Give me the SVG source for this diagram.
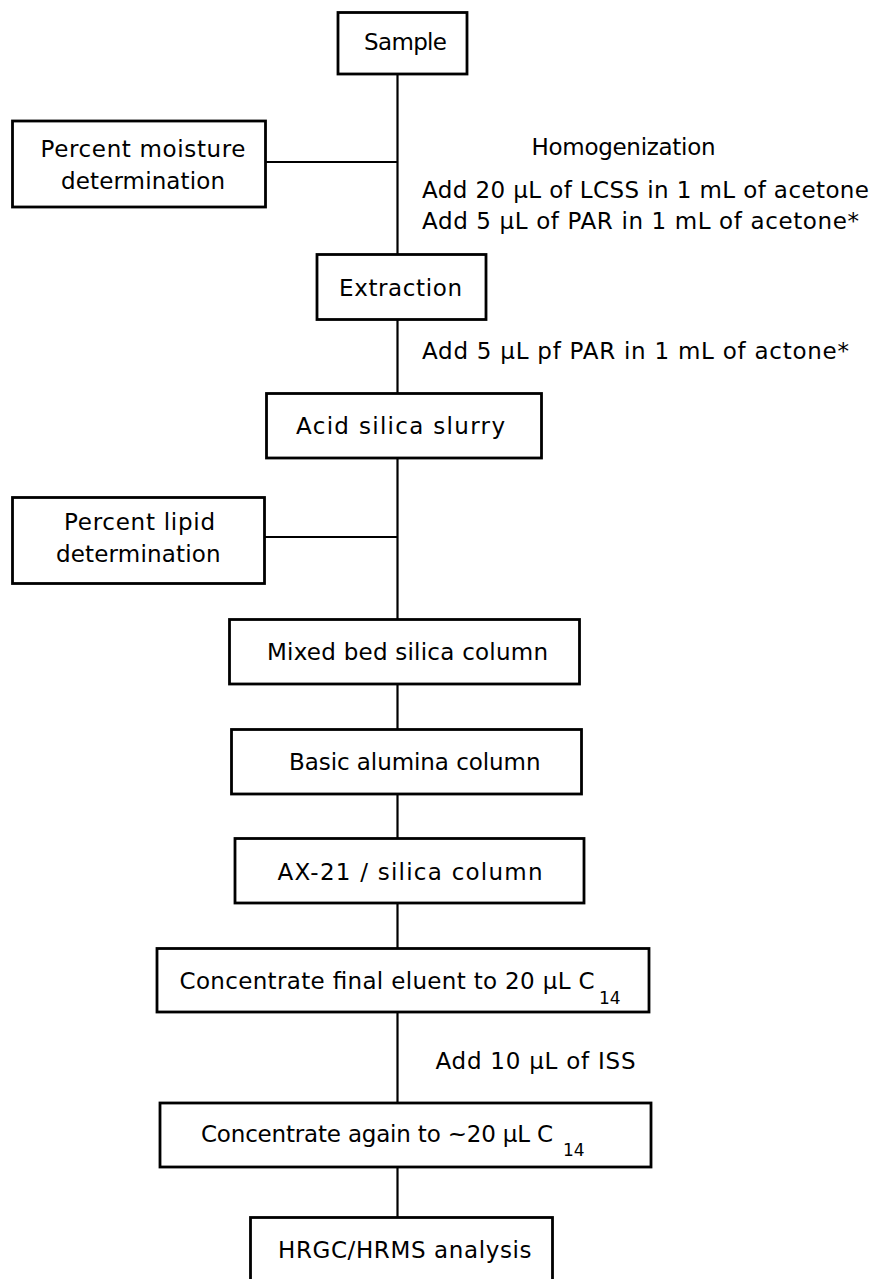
<svg xmlns="http://www.w3.org/2000/svg" width="875" height="1279" viewBox="0 0 875 1279">
<style>
.box{fill:#fff;stroke:#000;stroke-width:2.8}
.t{font-family:"DejaVu Sans","Verdana",sans-serif;font-size:23px;fill:#000}
.s{font-family:"DejaVu Sans","Verdana",sans-serif;font-size:17px;fill:#000}
.c{stroke:#000;stroke-width:2.2;fill:none}
</style>
<rect width="875" height="1279" fill="#fff"/>
<g id="connectors">
<line class="c" x1="397.5" y1="74" x2="397.5" y2="254"/>
<line class="c" x1="265" y1="162" x2="397.5" y2="162"/>
<line class="c" x1="397.5" y1="319" x2="397.5" y2="393"/>
<line class="c" x1="397.5" y1="458" x2="397.5" y2="619"/>
<line class="c" x1="265" y1="537" x2="397.5" y2="537"/>
<line class="c" x1="397.5" y1="684" x2="397.5" y2="729"/>
<line class="c" x1="397.5" y1="794" x2="397.5" y2="838"/>
<line class="c" x1="397.5" y1="903" x2="397.5" y2="948"/>
<line class="c" x1="397.5" y1="1012" x2="397.5" y2="1103"/>
<line class="c" x1="397.5" y1="1167" x2="397.5" y2="1217"/>
</g>
<g id="labels">
<text class="t" x="531.5" y="155" textLength="184" lengthAdjust="spacing">Homogenization</text>
<text class="t" x="422" y="198" textLength="447" lengthAdjust="spacing">Add 20 µL of LCSS in 1 mL of acetone</text>
<text class="t" x="422" y="229" textLength="437" lengthAdjust="spacing">Add 5 µL of PAR in 1 mL of acetone*</text>
<text class="t" x="422" y="359" textLength="427" lengthAdjust="spacing">Add 5 µL pf PAR in 1 mL of actone*</text>
<text class="t" x="435.5" y="1069" textLength="200" lengthAdjust="spacing">Add 10 µL of ISS</text>
</g>
<g id="sample">
<rect class="box" x="338" y="12.5" width="129" height="61.5"/>
<text class="t" x="364" y="49.5" textLength="83" lengthAdjust="spacing">Sample</text>
</g>
<g id="moisture">
<rect class="box" x="12.5" y="121" width="253" height="86"/>
<text class="t" x="40.5" y="157" textLength="205" lengthAdjust="spacing">Percent moisture</text>
<text class="t" x="61" y="189" textLength="164" lengthAdjust="spacing">determination</text>
</g>
<g id="extraction">
<rect class="box" x="317" y="254.5" width="169" height="65"/>
<text class="t" x="339" y="296" textLength="123" lengthAdjust="spacing">Extraction</text>
</g>
<g id="acid">
<rect class="box" x="266.5" y="393.5" width="275" height="64.5"/>
<text class="t" x="296" y="434" textLength="209" lengthAdjust="spacing">Acid silica slurry</text>
</g>
<g id="lipid">
<rect class="box" x="12.5" y="497.5" width="252" height="86"/>
<text class="t" x="64" y="530" textLength="151" lengthAdjust="spacing">Percent lipid</text>
<text class="t" x="56" y="561.5" textLength="164.5" lengthAdjust="spacing">determination</text>
</g>
<g id="mixed">
<rect class="box" x="229.5" y="619.5" width="350" height="64.5"/>
<text class="t" x="267" y="660" textLength="281" lengthAdjust="spacing">Mixed bed silica column</text>
</g>
<g id="basic">
<rect class="box" x="231.5" y="729.5" width="350" height="64.5"/>
<text class="t" x="289" y="770" textLength="251.5" lengthAdjust="spacing">Basic alumina column</text>
</g>
<g id="ax21">
<rect class="box" x="235" y="838.5" width="349" height="64.5"/>
<text class="t" x="277.5" y="880" textLength="265" lengthAdjust="spacing">AX-21 / silica column</text>
</g>
<g id="concentrate-final">
<rect class="box" x="157" y="948.5" width="492" height="63.5"/>
<text class="t" x="179.5" y="989" textLength="415" lengthAdjust="spacing">Concentrate final eluent to 20 µL C</text>
<text class="s" x="599" y="1003.5">14</text>
</g>
<g id="concentrate-again">
<rect class="box" x="160" y="1103" width="491" height="64"/>
<text class="t" x="201" y="1142" textLength="352" lengthAdjust="spacing">Concentrate again to ~20 µL C</text>
<text class="s" x="563" y="1156">14</text>
</g>
<g id="hrgc">
<rect class="box" x="250.5" y="1217.5" width="302" height="80"/>
<text class="t" x="278" y="1258" textLength="253.5" lengthAdjust="spacing">HRGC/HRMS analysis</text>
</g>
</svg>
